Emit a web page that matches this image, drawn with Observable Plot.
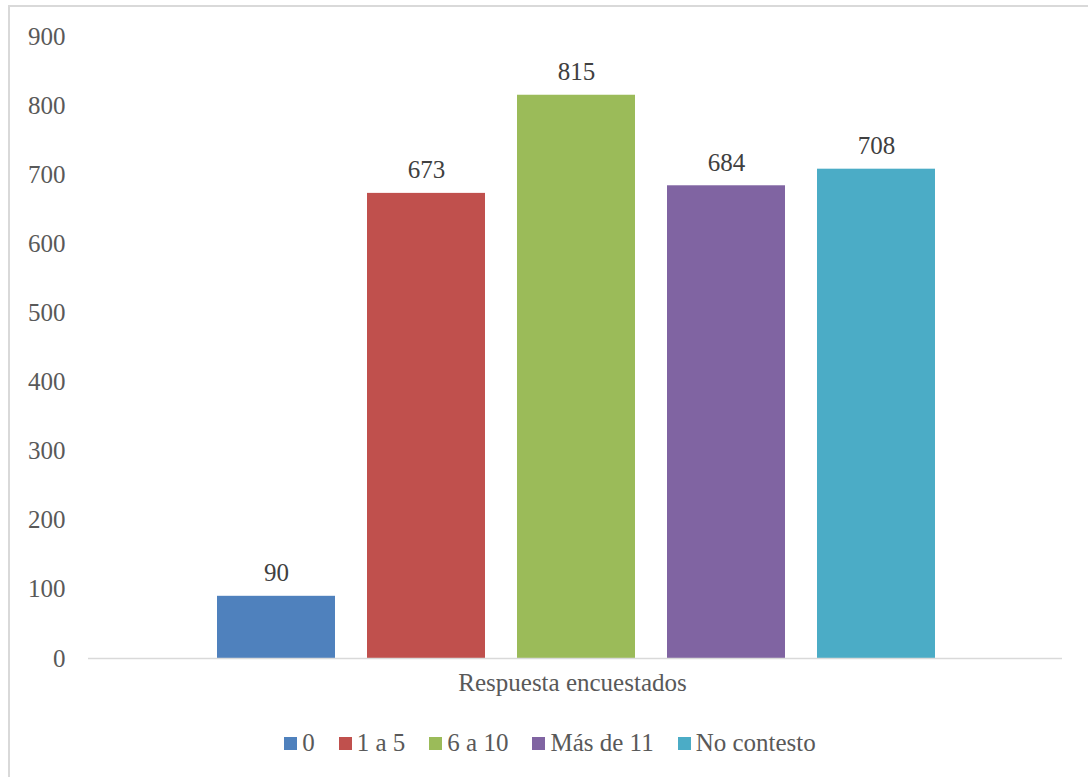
<!DOCTYPE html>
<html>
<head>
<meta charset="utf-8">
<script src="https://cdn.jsdelivr.net/npm/d3@7"></script>
<script src="https://cdn.jsdelivr.net/npm/@observablehq/plot@0.6"></script>
<style>
  html, body { margin: 0; padding: 0; background: #fff; overflow: hidden; }
  #frame { position: absolute; left: 8px; top: 5px; width: 1200px; height: 900px;
           border-left: 2px solid #d9d9d9; border-top: 2px solid #d9d9d9; box-sizing: border-box; }
  #chart { position: absolute; left: 0; top: 0; }
  #legend { position: absolute; left: 0; top: 715px; width: 1100px; height: 56px;
            display: flex; justify-content: center; align-items: center; gap: 24px;
            font-family: "Liberation Serif", serif; font-size: 25px; color: #595959; }
  .item { display: flex; align-items: center; gap: 5px; }
  .sw { width: 13px; height: 13px; display: inline-block; }
</style>
</head>
<body>
<div id="frame"></div>
<div id="chart"></div>
<div id="legend"></div>
<script>
const categories = ["0", "1 a 5", "6 a 10", "Más de 11", "No contesto"];
const values = [90, 673, 815, 684, 708];
const colors = ["#4F81BD", "#C0504D", "#9BBB59", "#8064A2", "#4BACC6"];
const yTicks = [0, 100, 200, 300, 400, 500, 600, 700, 800, 900];
const axisTitle = "Respuesta encuestados";

const data = categories.map((c, i) => ({cat: c, value: values[i]}));

const plot = Plot.plot({
  width: 1088,
  height: 715,
  marginTop: 36,
  marginBottom: 57,
  marginLeft: 88,
  marginRight: 26,
  style: {fontFamily: "Liberation Serif, serif", fontSize: "25px", color: "#595959", background: "transparent"},
  x: {type: "band", domain: categories, range: [185, 967], padding: 0.2133, axis: null},
  y: {domain: [0, 900], axis: null},
  color: {domain: categories, range: colors},
  marks: [
    Plot.barY(data, {x: "cat", y: "value", fill: "cat"}),
    Plot.ruleY([0], {stroke: "#d9d9d9", strokeWidth: 1.5}),
    Plot.axisY({ticks: yTicks, tickSize: 0, tickPadding: 23, tickFormat: d => String(d), label: null,
                fontSize: 25, fill: "#595959"}),
    Plot.text(data, {x: "cat", y: "value", text: d => String(d.value), dy: -23, fontSize: 25, fill: "#404040"}),
    Plot.text([axisTitle], {frameAnchor: "bottom", dy: 32, dx: -3, text: d => d, fontSize: 25, fill: "#595959"})
  ]
});
document.getElementById("chart").appendChild(plot);

const legend = document.getElementById("legend");
categories.forEach((c, i) => {
  const item = document.createElement("div");
  item.className = "item";
  const sw = document.createElement("span");
  sw.className = "sw";
  sw.style.background = colors[i];
  const t = document.createElement("span");
  t.textContent = c;
  item.appendChild(sw);
  item.appendChild(t);
  legend.appendChild(item);
});
</script>
</body>
</html>
